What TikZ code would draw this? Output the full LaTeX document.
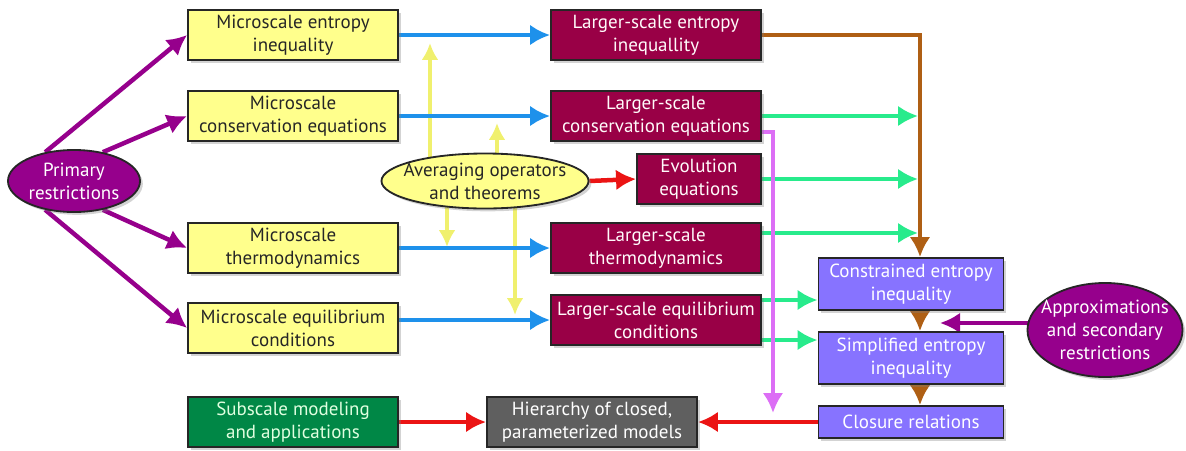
\documentclass[tikz,border=0pt]{standalone}
\usepackage{fontspec}
\setmainfont{PT Sans}
\usetikzlibrary{arrows.meta,shapes.geometric,shadows,backgrounds}

\definecolor{microyellow}{RGB}{255,255,140}
\definecolor{largermaroon}{RGB}{153,0,70}
\definecolor{restrictpurple}{RGB}{150,0,140}
\definecolor{closureblue}{RGB}{135,115,255}
\definecolor{subgreen}{RGB}{0,135,70}
\definecolor{hiergray}{RGB}{95,95,95}
\definecolor{avgblue}{RGB}{30,145,235}
\definecolor{fluxgreen}{RGB}{40,235,140}
\definecolor{chainbrown}{RGB}{175,95,20}
\definecolor{closepink}{RGB}{220,110,245}
\definecolor{linkred}{RGB}{235,20,20}
\definecolor{avgyellow}{RGB}{240,240,110}

\tikzset{
  box/.style={draw=black!85, line width=1.3pt, minimum width=5.25cm, minimum height=1.25cm,
    align=center, inner sep=1pt, font=\fontsize{13.5}{16.5}\selectfont,
    drop shadow={shadow xshift=2pt, shadow yshift=-2pt, opacity=0.35}},
  microbox/.style={box, fill=microyellow, text=black!85},
  largebox/.style={box, fill=largermaroon, text=white!92!pink},
  closebox/.style={box, fill=closureblue, text=white, minimum width=4.625cm},
  oval/.style={ellipse, draw=black!85, line width=1.3pt, align=center, inner sep=-0.6cm,
    font=\fontsize{13.5}{16.5}\selectfont,
    drop shadow={shadow xshift=2pt, shadow yshift=-2pt, opacity=0.35}},
  link/.style={line width=3.2pt, -{Latex[length=0.5cm,width=0.52cm]}},
  bluelink/.style={link, avgblue},
  greenlink/.style={link, fluxgreen},
  brownlink/.style={link, chainbrown},
  redlink/.style={link, linkred},
  purplelink/.style={link, restrictpurple},
  pinklink/.style={link, closepink},
  yellowlink/.style={line width=2.4pt, avgyellow, -{Latex[length=0.42cm,width=0.42cm]}},
}

\begin{document}
\begin{tikzpicture}[x=0.025cm,y=-0.025cm]
\useasboundingbox (0,0) rectangle (1186,450);

\node[microbox] (mentropy) at (293,35) {Microscale entropy\\inequality};
\node[microbox] (mcons) at (293,116) {Microscale\\conservation equations};
\node[microbox] (mthermo) at (293,248) {Microscale\\thermodynamics};
\node[microbox] (mequil) at (293,328) {Microscale equilibrium\\conditions};
\node[box, fill=subgreen, text=white!88!green] (subscale) at (293,422) {Subscale modeling\\and applications};

\node[largebox] (lentropy) at (656,35) {Larger-scale entropy\\inequallity};
\node[largebox] (lcons) at (656,116) {Larger-scale\\conservation equations};
\node[largebox, minimum width=3.1cm] (evol) at (699,179) {Evolution\\equations};
\node[largebox] (lthermo) at (656,248) {Larger-scale\\thermodynamics};
\node[largebox] (lequil) at (656,320) {Larger-scale equilibrium\\conditions};
\node[box, fill=hiergray, text=white] (hier) at (592,422) {Hierarchy of closed,\\parameterized models};

\node[closebox, minimum height=1.3cm] (constr) at (911,284) {Constrained entropy\\inequality};
\node[closebox, minimum height=1.3cm] (simpl) at (911,358) {Simplified entropy\\inequality};
\node[closebox, minimum height=0.8cm] (closure) at (911,422) {Closure relations};

\node[oval, fill=restrictpurple, text=white, minimum width=3.3cm, minimum height=1.55cm] (prim) at (74,181) {Primary\\restrictions};
\node[oval, fill=microyellow, text=black!85, minimum width=5.175cm, minimum height=1.375cm] (avg) at (485,181) {Averaging operators\\and theorems};
\node[oval, fill=restrictpurple, text=white, minimum width=3.875cm, minimum height=2.35cm] (approx) at (1105,330) {Approximations\\and secondary\\restrictions};

\coordinate (yup1) at (430,43);
\coordinate (yup2) at (497,123);
\coordinate (ydown1) at (447,247);
\coordinate (ydown2) at (515,315);
\coordinate (brownx) at (918,0);
\coordinate (g1) at ([yshift=0.5cm]lequil.east);
\coordinate (g2) at ([yshift=-0.5cm]lequil.east);
\coordinate (g3) at ([yshift=0.375cm]lthermo.east);
\coordinate (pstart) at ([yshift=-0.4cm]lcons.east);
\coordinate (ptip) at (773,413);
\coordinate (atip) at (940,323);

\begin{scope}[on background layer]
\draw[purplelink] (prim.135) -- (mentropy.west);
\draw[purplelink] (prim.45) -- (mcons.west);
\draw[purplelink] (prim.-45) -- (mthermo.west);
\draw[purplelink] (prim.-135) -- (mequil.west);

\draw[yellowlink] (avg.center -| yup1) -- (yup1);
\draw[yellowlink] (avg.center -| yup2) -- (yup2);
\draw[yellowlink] (avg.center -| ydown1) -- (ydown1);
\draw[yellowlink] (avg.center -| ydown2) -- (ydown2);

\draw[bluelink] (mentropy.east) -- (lentropy.west);
\draw[bluelink] (mcons.east) -- (lcons.west);
\draw[bluelink] (mthermo.east) -- (lthermo.west);
\draw[bluelink] (lequil.west -| mequil.east) -- (lequil.west);

\draw[redlink] (avg.east) -- (evol.west);

\draw[brownlink] (lentropy.east) -| ([xshift=0.225cm]constr.north);
\draw[brownlink] ([xshift=0.225cm]constr.south) -- ([xshift=0.225cm]simpl.north);
\draw[brownlink] ([xshift=0.225cm]simpl.south) -- ([xshift=0.225cm]closure.north);

\draw[greenlink] (lcons.east) -- (lcons.east -| brownx);
\draw[greenlink] (evol.east) -- (evol.east -| brownx);
\draw[greenlink] (g3) -- (g3 -| brownx);
\draw[greenlink] (g1) -- (g1 -| constr.west);
\draw[greenlink] (g2) -- (g2 -| simpl.west);

\draw[pinklink] (pstart) -| (ptip);

\draw[redlink] (closure.west) -- (hier.east);
\draw[redlink] (subscale.east) -- (hier.west);

\draw[purplelink] (atip -| approx.center) -- (atip);
\end{scope}
\end{tikzpicture}
\end{document}
